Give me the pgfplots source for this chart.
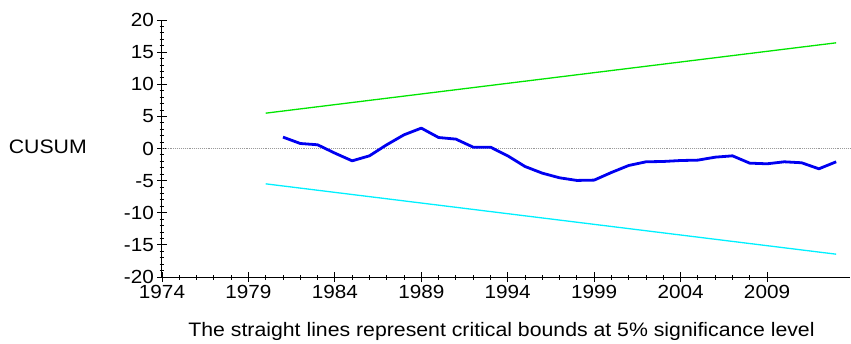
\documentclass[border=0pt]{standalone}
\usepackage{pgfplots}
\pgfplotsset{compat=1.18}
\usepackage{fontspec}
\setmainfont[FakeStretch=1.09]{Liberation Sans}
\definecolor{bndgreen}{RGB}{0,230,0}
\definecolor{bndcyan}{RGB}{0,240,255}
\definecolor{cusblue}{RGB}{0,0,240}
\begin{document}
\begin{tikzpicture}
\useasboundingbox (-162pt,-66pt) rectangle (689pt,277pt);
\begin{axis}[
  at={(0,0)}, anchor=south west,
  scale only axis, width=688pt, height=257pt,
  xmin=1974, xmax=2013.8, ymin=-20, ymax=20,
  axis x line=bottom, axis y line=left,
  axis line style={-, line width=1pt},
  xtick={1974,1979,...,2009}, minor x tick num=4,
  ytick={-20,-15,...,20}, minor y tick num=4,
  tick align=center,
  major tick length=10pt, minor tick length=5pt,
  tick style={black, line width=0.9pt},
  /pgf/number format/1000 sep={},
  /pgf/number format/assume math mode=true,
  tick label style={font=\fontsize{19}{21}\selectfont, inner sep=0pt},
  xticklabel style={yshift=-3.3pt},
  yticklabel style={xshift=-3pt},
  xlabel={The straight lines represent critical bounds at 5\% significance level},
  xlabel style={font=\fontsize{19.5}{22}\selectfont, at={(axis description cs:0.4935,-0.232)}, anchor=base},
  ylabel={CUSUM},
  ylabel style={font=\fontsize{19.5}{22}\selectfont, rotate=-90, at={(axis description cs:-0.166,0.505)}, anchor=center},
  clip=false,
]
\addplot[gray!80, densely dotted, line width=0.9pt] coordinates {(1974,0) (2013.8,0)};
\addplot[bndgreen, line width=1.3pt] coordinates {(1980,5.5) (2013,16.45)};
\addplot[bndcyan, line width=1.3pt] coordinates {(1980,-5.5) (2013,-16.45)};
\addplot[cusblue, line width=2.8pt, line join=round] coordinates {
(1981,1.77) (1982,0.78) (1983,0.58) (1984,-0.72) (1985,-1.92) (1986,-1.14)
(1987,0.58) (1988,2.13) (1989,3.17) (1990,1.71) (1991,1.46) (1992,0.21)
(1993,0.21) (1994,-1.14) (1995,-2.80) (1996,-3.84) (1997,-4.56) (1998,-4.97)
(1999,-4.92) (2000,-3.73) (2001,-2.64) (2002,-2.07) (2003,-2.02) (2004,-1.87)
(2005,-1.81) (2006,-1.35) (2007,-1.14) (2008,-2.28) (2009,-2.38) (2010,-2.07)
(2011,-2.22) (2012,-3.16) (2013,-2.07)};
\end{axis}
\end{tikzpicture}
\end{document}
